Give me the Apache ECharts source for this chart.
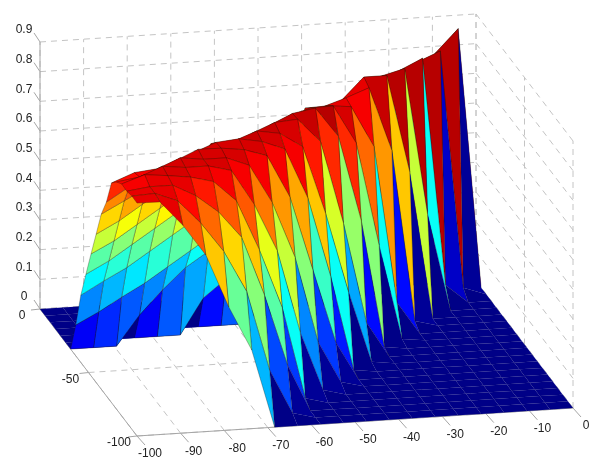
<!DOCTYPE html>
<html>
<head>
<meta charset="utf-8">
<style>
    html, body { margin: 0; padding: 0; background: #fff; }
    #surfChart { width: 600px; height: 468px; }
</style>
<script src="https://cdn.jsdelivr.net/npm/echarts@6/dist/echarts.min.js"></script>
</head>
<body>
<div id="surfChart"></div>
<script>
//网格节点 x, y (20 x 20)
var xNodes = [-100, -94.74, -89.47, -84.21, -78.95, -73.68, -68.42, -63.16, -57.89, -52.63, -47.37, -42.11, -36.84, -31.58, -26.32, -21.05, -15.79, -10.53, -5.26, 0];
var yNodes = [-100, -94.74, -89.47, -84.21, -78.95, -73.68, -68.42, -63.16, -57.89, -52.63, -47.37, -42.11, -36.84, -31.58, -26.32, -21.05, -15.79, -10.53, -5.26, 0];

//z值，每行对应一个 y 节点，从 y=-100 开始
var zRows = [
    [.785, .784, .70, .595, .415, .265, 0, 0, 0, 0, 0, 0, 0, 0, 0, 0, 0, 0, 0, 0],
    [.786, .79, .76, .68, .58, .44, .17, .02, 0, 0, 0, 0, 0, 0, 0, 0, 0, 0, 0, 0],
    [.78, .79, .79, .75, .69, .60, .40, .16, 0, 0, 0, 0, 0, 0, 0, 0, 0, 0, 0, 0],
    [.782, .808, .80, .79, .77, .70, .53, .33, .02, 0, 0, 0, 0, 0, 0, 0, 0, 0, 0, 0],
    [.766, .778, .809, .80, .80, .78, .66, .50, .22, .02, 0, 0, 0, 0, 0, 0, 0, 0, 0, 0],
    [.74, .77, .778, .81, .80, .80, .77, .64, .45, .16, .02, 0, 0, 0, 0, 0, 0, 0, 0, 0],
    [.653, .70, .74, .777, .811, .81, .80, .775, .63, .38, .13, 0, 0, 0, 0, 0, 0, 0, 0, 0],
    [.59, .63, .67, .71, .776, .807, .814, .80, .77, .60, .33, .01, 0, 0, 0, 0, 0, 0, 0, 0],
    [.50, .54, .59, .64, .69, .78, .784, .813, .80, .75, .52, .25, .01, 0, 0, 0, 0, 0, 0, 0],
    [.411, .45, .50, .55, .60, .66, .70, .782, .814, .82, .74, .46, .12, 0, 0, 0, 0, 0, 0, 0],
    [.32, .36, .41, .46, .51, .56, .60, .65, .782, .817, .83, .73, .44, .01, 0, 0, 0, 0, 0, 0],
    [.227, .27, .31, .36, .41, .46, .50, .55, .60, .783, .808, .81, .68, .33, .01, 0, 0, 0, 0, 0],
    [.104, .143, .188, .23, .28, .33, .38, .43, .48, .55, .785, .788, .78, .64, .11, 0, 0, 0, 0, 0],
    [0, 0, 0, .10, .18, .25, .30, .34, .38, .42, .50, .762, .787, .816, .60, .02, 0, 0, 0, 0],
    [0, 0, 0, 0, 0, 0, .12, .18, .20, .25, .30, .40, .754, .83, .83, .50, 0, 0, 0, 0],
    [0, 0, 0, 0, 0, 0, 0, 0, 0, .10, .12, .20, .30, .50, .806, .826, .33, 0, 0, 0],
    [0, 0, 0, 0, 0, 0, 0, 0, 0, 0, 0, .05, .10, .20, .30, .797, .833, .064, 0, 0],
    [0, 0, 0, 0, 0, 0, 0, 0, 0, 0, 0, 0, 0, .05, .10, .20, .798, .83, .027, 0],
    [0, 0, 0, 0, 0, 0, 0, 0, 0, 0, 0, 0, 0, 0, 0, 0, .10, .80, .878, 0],
    [0, 0, 0, 0, 0, 0, 0, 0, 0, 0, 0, 0, 0, 0, 0, 0, 0, 0, .835, 0]
];

//刻度
var xTicks = [-100, -90, -80, -70, -60, -50, -40, -30, -20, -10, 0];
var yTicks = [0, -50, -100];
var zTicks = [0, 0.1, 0.2, 0.3, 0.4, 0.5, 0.6, 0.7, 0.8, 0.9];
var zMax = 0.88;

//三维投影到图面
function project(x, y, z) {
    var a = x + 100, b = y + 100;
    return [137 + 4.36 * a - 0.97 * b, 436 - 0.28 * a - 1.27 * b - 296.7 * z];
}

//jet色带，64级
function jet(v) {
    var level = Math.min(63, Math.floor(v * 64));
    var t = (level + 0.5) / 64;
    function ch(c) {
        return Math.round(255 * Math.max(0, Math.min(1, 1.5 - Math.abs(4 * t - c))));
    }
    return 'rgb(' + ch(3) + ',' + ch(2) + ',' + ch(1) + ')';
}

//从后往前画
var cells = [];
for (var j = yNodes.length - 2; j >= 0; j--) {
    for (var i = xNodes.length - 2; i >= 0; i--) {
        cells.push([i, j]);
    }
}

//网格线 [x1,y1,z1, x2,y2,z2, 虚线]
var wallLines = [];
xTicks.forEach(function (t) {
    wallLines.push([t, 0, 0, t, 0, 0.9, 1]);
    wallLines.push([t, 0, 0, t, -100, 0, 1]);
});
yTicks.forEach(function (t) {
    wallLines.push([0, t, 0, 0, t, 0.9, 1]);
    wallLines.push([-100, t, 0, 0, t, 0, 1]);
});
zTicks.forEach(function (t) {
    wallLines.push([-100, 0, t, 0, 0, t, 1]);
    wallLines.push([0, 0, t, 0, -100, t, 1]);
});
wallLines.push([-100, 0, 0, -100, 0, 0.9, 0]);
wallLines.push([-100, -100, 0, 0, -100, 0, 0]);
wallLines.push([-100, 0, 0, -100, -100, 0, 0]);

//刻度线和标签 [x,y,z, 文字, 刻度dx,dy, 文字dx,dy]
var tickItems = [];
xTicks.forEach(function (t) {
    tickItems.push([t, -100, 0, String(t), 8, 9, 13, 18]);
});
yTicks.forEach(function (t) {
    tickItems.push([-100, t, 0, String(t), -9, 1, -18, 7]);
});
zTicks.forEach(function (t) {
    tickItems.push([-100, 0, t, String(t), -6, -9, -16, -12]);
});

var surfChart = echarts.init(document.getElementById('surfChart'), null, {renderer: 'canvas'});
surfChart.setOption({
    animation: false,
    backgroundColor: '#ffffff',
    grid: {left: 0, right: 0, top: 0, bottom: 0},
    xAxis: {type: 'value', min: 0, max: 600, show: false},
    yAxis: {type: 'value', min: 0, max: 468, inverse: true, show: false},
    series: [
        {
            type: 'custom',
            coordinateSystem: 'cartesian2d',
            silent: true,
            clip: false,
            data: wallLines,
            renderItem: function (params, api) {
                var row = wallLines[params.dataIndex];
                var p1 = api.coord(project(row[0], row[1], row[2]));
                var p2 = api.coord(project(row[3], row[4], row[5]));
                return {
                    type: 'line',
                    shape: {x1: p1[0], y1: p1[1], x2: p2[0], y2: p2[1]},
                    style: {
                        stroke: row[6] ? '#c4c4c4' : '#a6a6a6',
                        lineWidth: 1,
                        lineDash: row[6] ? [6, 5] : null
                    }
                };
            }
        },
        {
            type: 'custom',
            coordinateSystem: 'cartesian2d',
            silent: true,
            clip: false,
            data: tickItems,
            renderItem: function (params, api) {
                var row = tickItems[params.dataIndex];
                var p = api.coord(project(row[0], row[1], row[2]));
                return {
                    type: 'group',
                    children: [
                        {
                            type: 'line',
                            shape: {x1: p[0], y1: p[1], x2: p[0] + row[4], y2: p[1] + row[5]},
                            style: {stroke: '#a6a6a6', lineWidth: 1}
                        },
                        {
                            type: 'text',
                            style: {
                                text: row[3],
                                x: p[0] + row[6],
                                y: p[1] + row[7],
                                fill: '#222222',
                                font: '12px "Liberation Sans", Arial, sans-serif',
                                align: 'center',
                                verticalAlign: 'middle'
                            }
                        }
                    ]
                };
            }
        },
        {
            type: 'custom',
            coordinateSystem: 'cartesian2d',
            silent: true,
            clip: false,
            data: cells,
            renderItem: function (params, api) {
                var i = cells[params.dataIndex][0];
                var j = cells[params.dataIndex][1];
                var corners = [[i, j], [i + 1, j], [i + 1, j + 1], [i, j + 1]];
                var pts = corners.map(function (c) {
                    return api.coord(project(xNodes[c[0]], yNodes[c[1]], zRows[c[1]][c[0]]));
                });
                var flat = zRows[j][i] < 0.03;
                return {
                    type: 'polygon',
                    shape: {points: pts},
                    style: {
                        fill: jet(Math.min(1, zRows[j][i] / zMax)),
                        stroke: flat ? 'rgba(0,0,90,0.15)' : 'rgba(30,20,0,0.5)',
                        lineWidth: 0.6
                    }
                };
            }
        }
    ]
});
</script>
</body>
</html>
